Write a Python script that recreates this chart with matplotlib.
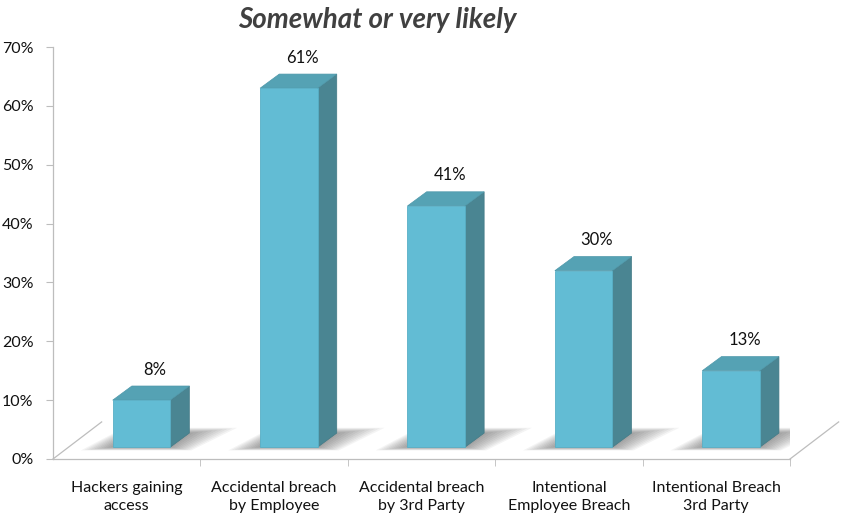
import matplotlib
matplotlib.use("Agg")
import matplotlib.pyplot as plt
from matplotlib.patches import Polygon

categories = ["Hackers gaining\naccess", "Accidental breach\nby Employee",
              "Accidental breach\nby 3rd Party", "Intentional\nEmployee Breach",
              "Intentional Breach\n3rd Party"]
values = [8, 61, 41, 30, 13]
value_labels = ["8%", "61%", "41%", "30%", "13%"]
y_ticks = [0, 10, 20, 30, 40, 50, 60, 70]
y_tick_labels = ["0%", "10%", "20%", "30%", "40%", "50%", "60%", "70%"]
title = "Somewhat or very likely"

plt.rcParams['font.family'] = ['Lato', 'DejaVu Sans']

W, H = 844, 513
fig = plt.figure(figsize=(W / 100, H / 100), dpi=100)
ax = fig.add_axes([53 / W, 54 / H, 737 / W, 412 / H])
ax.set_xlim(-0.5, 4.5)
ax.set_ylim(0, 70)

front_col = "#62BCD4"
side_col = "#4A8592"
top_col = "#55A2B4"
grid_col = "#BDBDBD"

base = 2.0       # front bottom of bars lifted into the floor
shift = 0.10     # bars pushed right (into depth)
bw = 0.39        # bar width
ddx, ddy = 0.13, 2.4   # bar depth offsets

for i, v in enumerate(values):
    xl = i + shift - bw / 2
    xr = xl + bw
    # soft shadow
    for k in range(10):
        ex = 0.018 * (k + 1)
        ey = 0.09 * (k + 1)
        ax.add_patch(Polygon([(xl - ex * 1.2, base - ey * 0.6),
                              (xr + ex * 0.8, base - ey * 0.6),
                              (xr + ddx + ex * 1.8, base + ddy + ey),
                              (xl + ddx - ex * 0.3, base + ddy + ey)],
                             closed=True, facecolor="#3a3a3a", edgecolor="none",
                             alpha=0.055, zorder=2))
    # front
    ax.add_patch(Polygon([(xl, base), (xr, base), (xr, base + v), (xl, base + v)],
                         closed=True, facecolor=front_col, edgecolor="#58AFC6",
                         linewidth=0.6, zorder=4))
    # side
    ax.add_patch(Polygon([(xr, base), (xr + ddx, base + ddy), (xr + ddx, base + v + ddy),
                          (xr, base + v)], closed=True, facecolor=side_col,
                         edgecolor="#437A86", linewidth=0.5, zorder=3))
    # top
    ax.add_patch(Polygon([(xl, base + v), (xr, base + v), (xr + ddx, base + v + ddy),
                          (xl + ddx, base + v + ddy)], closed=True, facecolor=top_col,
                         edgecolor="#4E98AA", linewidth=0.5, zorder=3))
    ax.text(xl + bw / 2 + ddx * 0.7, base + v + ddy + 2.8, value_labels[i],
            ha="center", va="center", fontsize=12, color="#111111", zorder=5)

# floor diagonals
fdx, fdy = 0.33, 6.3
ax.plot([-0.5, -0.5 + fdx], [0, fdy], color=grid_col, lw=0.9, clip_on=False, zorder=1)
ax.plot([4.5, 4.5 + fdx], [0, fdy], color=grid_col, lw=0.9, clip_on=False, zorder=1)

for s in ["top", "right"]:
    ax.spines[s].set_visible(False)
for s in ["left", "bottom"]:
    ax.spines[s].set_color(grid_col)
    ax.spines[s].set_linewidth(0.9)

ax.set_yticks(y_ticks)
ax.set_yticklabels(y_tick_labels, fontsize=11.5, color="#111111")
ax.tick_params(axis="y", length=5, color=grid_col, pad=9)

ax.set_xticks(range(len(categories)))
ax.set_xticklabels(categories, fontsize=11.5, color="#111111", linespacing=1.3)
ax.tick_params(axis="x", which="major", length=0, pad=16)
ax.set_xticks([0.5, 1.5, 2.5, 3.5, 4.5], minor=True)
ax.tick_params(axis="x", which="minor", length=5, color=grid_col)

fig.text(377 / W, 1 - 20 / H, title, ha="center", va="center", fontsize=20,
         fontweight="bold", fontstyle="italic", color="#404040")

fig.savefig("out.png", dpi=100)
